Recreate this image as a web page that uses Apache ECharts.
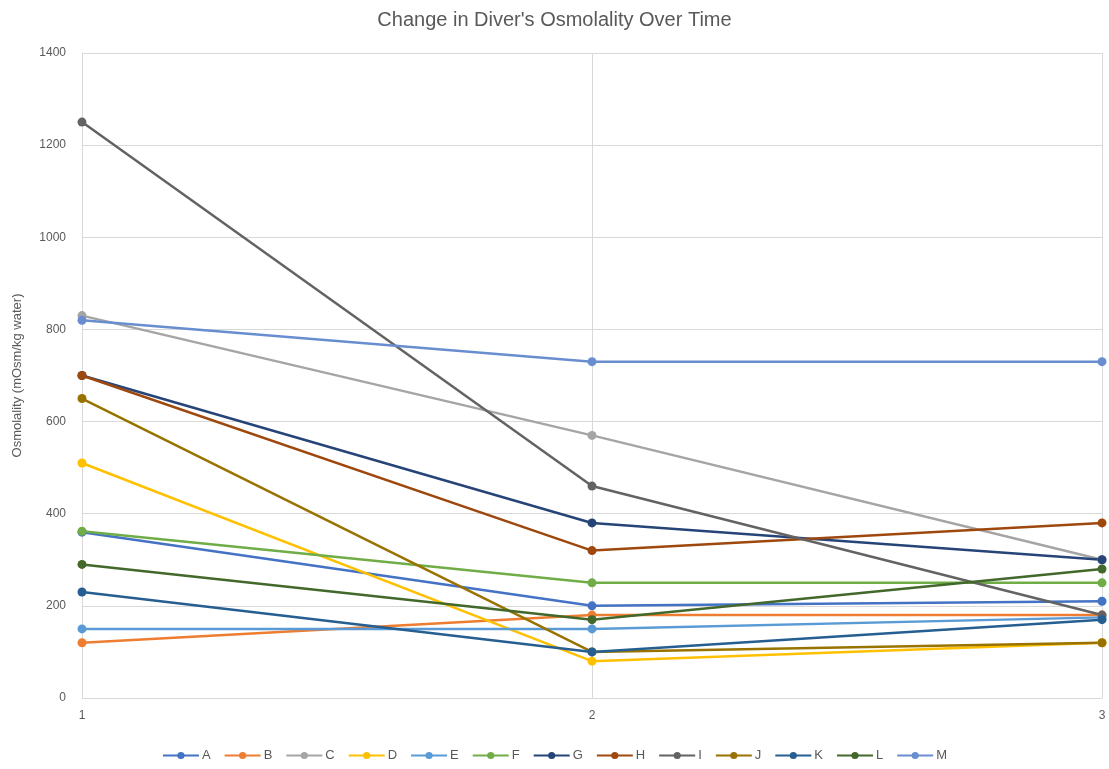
<!DOCTYPE html>
<html>
<head>
<meta charset="utf-8">
<script src="https://cdn.jsdelivr.net/npm/echarts@6/dist/echarts.min.js"></script>
<style>
html,body{margin:0;padding:0;background:#fff;}
#chart{width:1109px;height:769px;}
</style>
</head>
<body>
<div id="chart"></div>
<script>
var categories = ['1', '2', '3'];
var names = ['A','B','C','D','E','F','G','H','I','J','K','L','M'];
var A = [360, 200, 210];
var B = [120, 180, 180];
var C = [830, 570, 300];
var D = [510, 80, 120];
var E = [150, 150, 175];
var F = [362, 250, 250];
var G = [700, 380, 300];
var H = [700, 320, 380];
var I = [1250, 460, 180];
var J = [650, 100, 120];
var K = [230, 100, 170];
var L = [290, 170, 280];
var M = [820, 730, 730];
var colors = ['#4472C4','#ED7D31','#A5A5A5','#FFC000','#5B9BD5','#70AD47',
	'#264478','#9E480E','#636363','#997300','#255E91','#43682B','#698ED0'];

var seriesData = [A,B,C,D,E,F,G,H,I,J,K,L,M];
var series = [];
for (var i = 0; i < names.length; i++) {
	series.push({
		name: names[i],
		type: 'line',
		symbol: 'circle',
		symbolSize: 9,
		data: seriesData[i],
		lineStyle: { width: 2.5, color: colors[i] },
		itemStyle: { color: colors[i] }
	});
}

var myChart = echarts.init(document.getElementById('chart'));
var option = {
	animation: false,
	color: colors,
	textStyle: { fontFamily: 'Liberation Sans' },
	title: {
		text: "Change in Diver's Osmolality Over Time",
		left: 'center',
		top: 5,
		textStyle: { color: '#595959', fontSize: 20, fontWeight: 'normal' }
	},
	legend: {
		data: names,
		bottom: 2,
		left: 'center',
		itemWidth: 36,
		itemHeight: 9,
		itemGap: 13,
		textStyle: { color: '#595959', fontSize: 13, padding: [0, 0, 0, -2] }
	},
	grid: { left: 82, right: 7, top: 53, bottom: 71 },
	xAxis: {
		type: 'category',
		data: categories,
		boundaryGap: false,
		axisTick: { show: false },
		axisLine: { lineStyle: { color: '#d9d9d9' } },
		axisLabel: { color: '#595959', fontSize: 12, margin: 12 },
		splitLine: { show: true, lineStyle: { color: '#d9d9d9' } }
	},
	yAxis: {
		type: 'value',
		min: 0,
		max: 1400,
		interval: 200,
		name: 'Osmolality (mOsm/kg water)',
		nameLocation: 'middle',
		nameGap: 58,
		nameTextStyle: { color: '#595959', fontSize: 13 },
		axisLine: { show: true, lineStyle: { color: '#d9d9d9' } },
		axisLabel: {
			color: '#595959', fontSize: 12, margin: 16,
			formatter: function (v) { return String(v); }
		},
		splitLine: { lineStyle: { color: '#d9d9d9' } }
	},
	series: series
};
myChart.setOption(option);
</script>
</body>
</html>
